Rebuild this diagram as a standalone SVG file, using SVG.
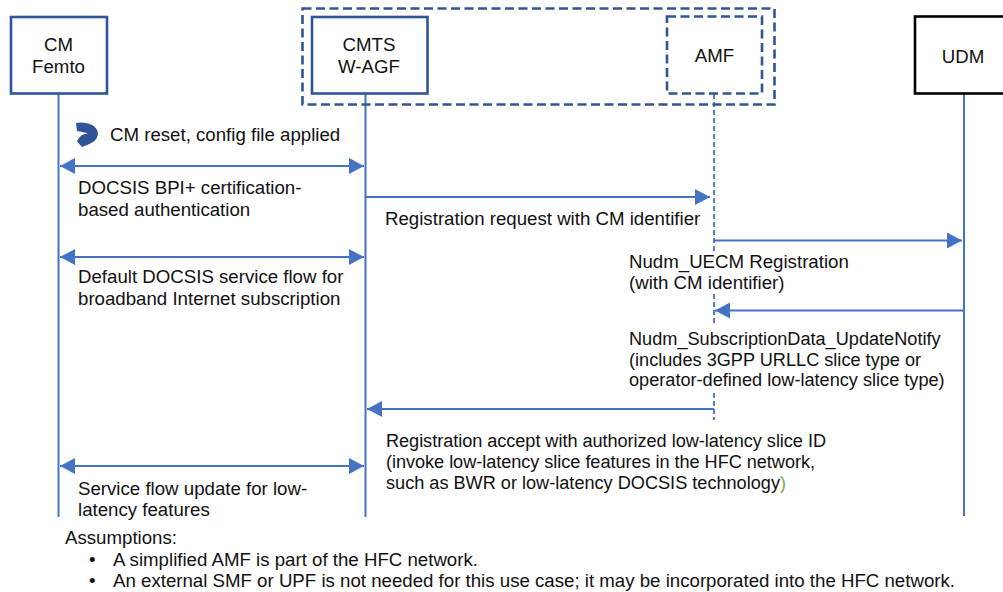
<svg xmlns="http://www.w3.org/2000/svg" width="1003" height="592" viewBox="0 0 1003 592">
<style>
text{font-family:"Liberation Sans",Arial,sans-serif;font-size:18.67px;fill:#111}
.c{text-anchor:middle}
.s{font-size:18.15px}
.box{fill:#fff;stroke:#2f5597;stroke-width:2.6}
.dash{fill:none;stroke:#2f5597;stroke-width:2.6;stroke-dasharray:9 4.500}
.life{stroke:#4472c4;stroke-width:2;fill:none}
.ldash{stroke:#4472c4;stroke-width:1.800;fill:none;stroke-dasharray:5 3}
.msg{stroke:#4472c4;stroke-width:2;fill:none}
</style>
<defs>
<marker id="a" markerUnits="userSpaceOnUse" markerWidth="16" markerHeight="16" refX="15" refY="8" orient="auto-start-reverse"><path d="M0 0L15 8L0 16Z" fill="#4472c4"/></marker>
</defs>
<rect width="1003" height="592" fill="#fff"/>
<g id="connectors">
<path class="life" d="M58.500 94V517"/>
<path class="life" d="M365.500 94V517"/>
<path class="ldash" d="M714 94V251"/>
<path class="ldash" d="M714 294V323"/>
<path class="ldash" d="M714 393V420"/>
<path class="life" d="M964 94V516"/>
<path class="msg" d="M60 166H364" marker-start="url(#a)" marker-end="url(#a)"/>
<path class="msg" d="M366 197H710" marker-end="url(#a)"/>
<path class="msg" d="M60 257H364" marker-start="url(#a)" marker-end="url(#a)"/>
<path class="msg" d="M714 240.500H962" marker-end="url(#a)"/>
<path class="msg" d="M964 310.500H715" marker-end="url(#a)"/>
<path class="msg" d="M714 409H367" marker-end="url(#a)"/>
<path class="msg" d="M60 466H364" marker-start="url(#a)" marker-end="url(#a)"/>
</g>
<g id="group-box"><rect class="dash" x="302.500" y="8.500" width="472" height="96"/></g>
<g id="cm"><rect class="box" x="11" y="17" width="96" height="76.500"/><text class="c" x="58.500" y="51">CM</text><text class="c" x="58.500" y="73">Femto</text></g>
<g id="cmts"><rect class="box" x="312" y="17" width="115.500" height="76.500"/><text class="c" x="369" y="50.500">CMTS</text><text class="c" x="369" y="72.500">W-AGF</text></g>
<g id="amf"><rect class="dash" x="667" y="16.500" width="95" height="77"/><text class="c" x="714.500" y="62">AMF</text></g>
<g id="udm"><rect x="915" y="16.500" width="100" height="77" fill="#fff" stroke="#000" stroke-width="2.600"/><text class="c" x="963" y="63">UDM</text></g>
<g id="reset-icon"><path d="M76 123C84 121 97 124 98 133C98 141 90 144 82 147L77 141.500C79 137 83 133 88 134C86 132 80 132 77 131Z" fill="#2f5597"/></g>
<g id="labels">
<text x="110" y="141">CM reset, config file applied</text>
<text x="78" y="194">DOCSIS BPI+ certification-</text>
<text x="78" y="215.500">based authentication</text>
<text x="385" y="224.500">Registration request with CM identifier</text>
<text x="78" y="283">Default DOCSIS service flow for</text>
<text x="78" y="304.500">broadband Internet subscription</text>
<text x="629" y="267.500">Nudm_UECM Registration</text>
<text x="629" y="289">(with CM identifier)</text>
<text class="s" x="629" y="345">Nudm_SubscriptionData_UpdateNotify</text>
<text class="s" x="629" y="366">(includes 3GPP URLLC slice type or</text>
<text class="s" x="629" y="386">operator-defined low-latency slice type)</text>
<text class="s" x="386" y="446.500" textLength="440">Registration accept with authorized low-latency slice ID</text>
<text class="s" x="386" y="468" textLength="429">(invoke low-latency slice features in the HFC network,</text>
<text class="s" x="386" y="489" textLength="400">such as BWR or low-latency DOCSIS technology<tspan fill="#70ad47">)</tspan></text>
<text x="78" y="494.500">Service flow update for low-</text>
<text x="78" y="516">latency features</text>
<text x="65" y="543.500">Assumptions:</text>
<text x="89" y="565.500">•</text>
<text x="113" y="565.500">A simplified AMF is part of the HFC network.</text>
<text x="89" y="586.500">•</text>
<text x="113" y="586.500">An external SMF or UPF is not needed for this use case; it may be incorporated into the HFC network.</text>
</g>
</svg>
